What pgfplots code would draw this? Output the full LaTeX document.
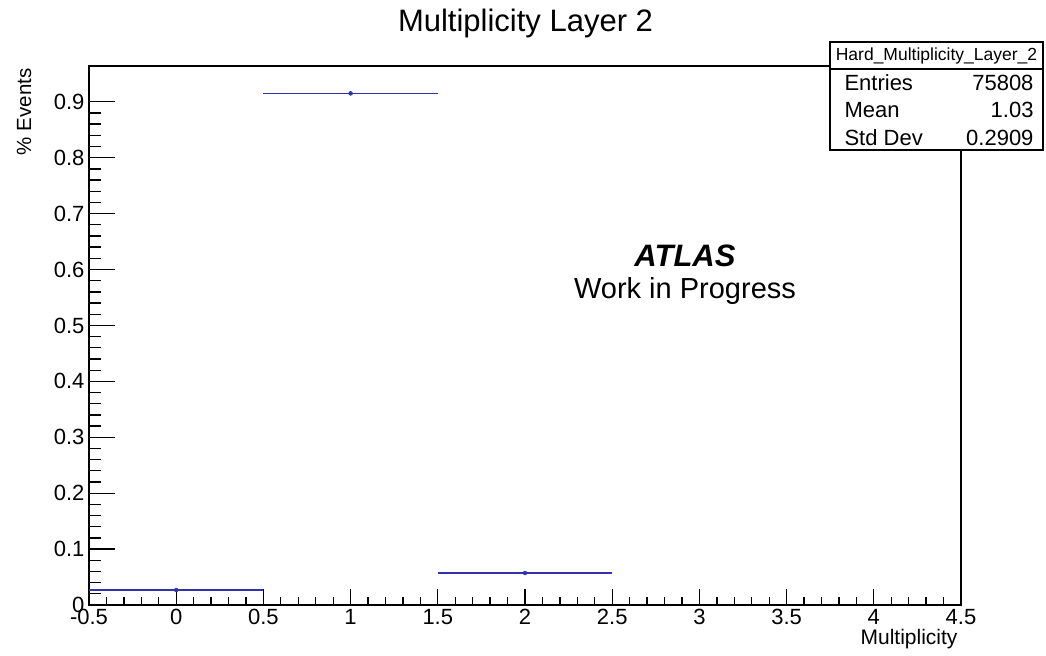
\documentclass[border=0pt]{standalone}
\usepackage{pgfplots}
\pgfplotsset{compat=1.18}
\usepackage{fontspec}
\setmainfont{Liberation Sans}
\definecolor{histblue}{RGB}{50,50,175}
\newcommand{\fs}[1]{\fontsize{#1}{#1}\selectfont}
\pgfplotsset{rootframe/.style={
  at={(89bp,51bp)}, anchor=south west,
  scale only axis, width=872bp, height=539bp,
  xmin=-0.5, xmax=4.5, ymin=0, ymax=0.964,
  axis line style={line width=1.3bp, black},
  tick pos=left, tick align=inside,
  every tick/.style={line width=1.3bp, black},
  /pgf/number format/assume math mode=true,
  /pgf/number format/fixed,
  tick label style={font=\fs{22bp}},
  clip=false,
}}
\begin{document}
\begin{tikzpicture}[x=1bp,y=1bp]
\path[use as bounding box] (0,0) rectangle (1046,656);
% y ticks (longer, as in the reference)
\begin{axis}[rootframe,
  xtick=\empty,
  ytick={0,0.1,0.2,0.3,0.4,0.5,0.6,0.7,0.8,0.9},
  minor y tick num=4,
  major tick length=26bp, minor tick length=12bp,
  yticklabel style={xshift=-1bp},
]
\end{axis}
% x ticks and data
\begin{axis}[rootframe,
  ytick=\empty,
  xtick={-0.5,0,0.5,1,1.5,2,2.5,3,3.5,4,4.5},
  minor x tick num=4,
  major tick length=16bp, minor tick length=8bp,
  xticklabel style={yshift=-1bp},
]
\addplot[histblue, only marks, mark=none,
  error bars/.cd, x dir=both, x fixed=0.5, y dir=both, y explicit,
  error mark=none, error bar style={line width=1.7bp, histblue}]
  table[x=x, y=y, y error=ey]{
  x y ey
  0 0.0268 0.0006
  1 0.9150 0.0035
  2 0.0572 0.0009
};
\end{axis}
% title
\node[anchor=base, font=\fs{31bp}] at (525.5,624) {Multiplicity Layer 2};
% axis labels
\node[anchor=base east, font=\fs{21bp}] at (961,11) {Multiplicity};
\node[anchor=base east, rotate=90, font=\fs{20.5bp}] at (31,591) {\% Events};
% ATLAS
\node[anchor=base, font=\fs{31bp}\bfseries\itshape] at (685,389) {ATLAS};
\node[anchor=base, font=\fs{29bp}] at (685,357) {Work in Progress};
% stats box
\draw[line width=1.3bp, fill=white] (830,506) rectangle (1043,614);
\draw[line width=1.3bp] (830,587) -- (1043,587);
\node[anchor=base, font=\fs{17.5bp}] at (936.5,595) {Hard\_Multiplicity\_Layer\_2};
\node[anchor=base west, font=\fs{22bp}] at (841,565) {Entries};
\node[anchor=base east, font=\fs{22bp}] at (1037,565) {75808};
\node[anchor=base west, font=\fs{22bp}] at (841,538) {Mean};
\node[anchor=base east, font=\fs{22bp}] at (1037,538) {1.03};
\node[anchor=base west, font=\fs{22bp}] at (841,510) {Std Dev};
\node[anchor=base east, font=\fs{22bp}] at (1037,510) {0.2909};
\end{tikzpicture}
\end{document}
